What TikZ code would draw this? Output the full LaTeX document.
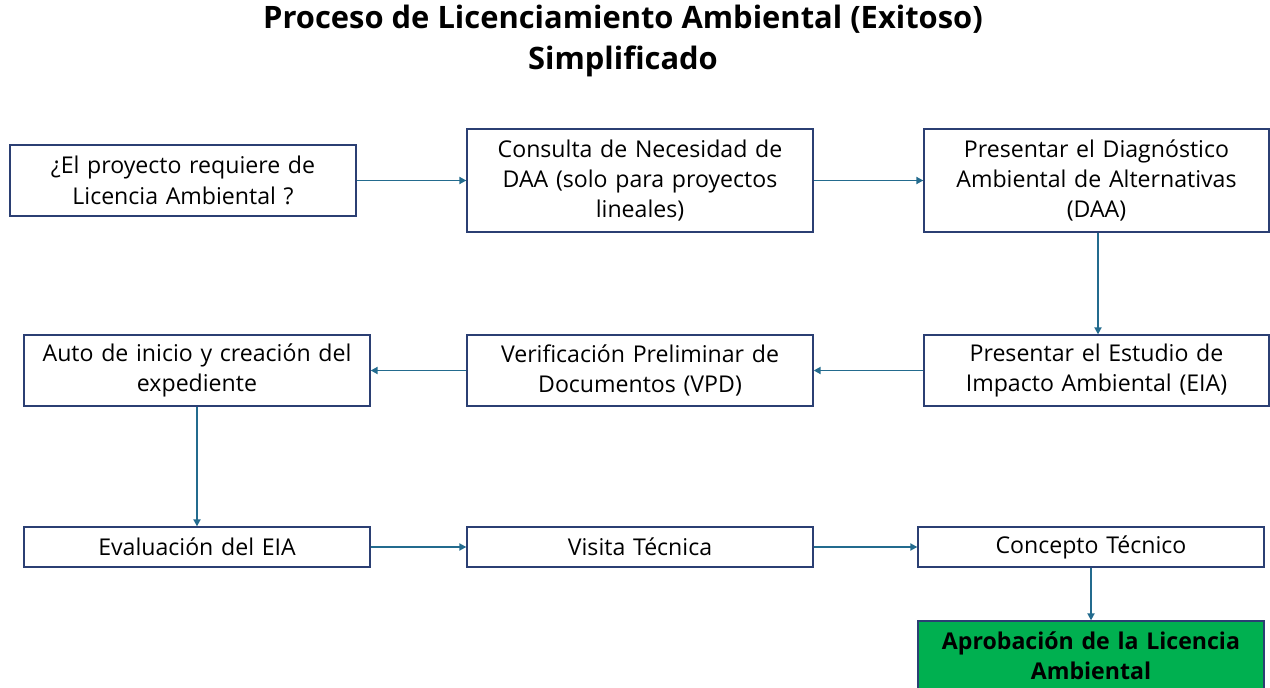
\documentclass[tikz,border=0pt]{standalone}
\usepackage{fontspec}
\setmainfont{Open Sans}
\usetikzlibrary{arrows.meta}
\definecolor{boxline}{HTML}{2B3F73}
\definecolor{arrowc}{HTML}{236B8E}
\definecolor{okgreen}{HTML}{00B050}
\begin{document}
\begin{tikzpicture}[x=1bp,y=-1bp,
  box/.style={draw=boxline, line width=1.3bp, fill=white, inner sep=0pt, align=center,
    font=\fontsize{23.2}{30.5}\selectfont, text width=340bp},
  arr/.style={draw=arrowc, line width=1.8bp, -{Triangle[length=7bp,width=7bp]}}]
\useasboundingbox (0,0) rectangle (1270,688);
\clip (0,0) rectangle (1270,688);
\node[font=\bfseries\fontsize{31}{41}\selectfont, align=center] (title) at (623,41) {Proceso de Licenciamiento Ambiental (Exitoso)\\Simplificado};
\node[box, minimum width=346bp, minimum height=71bp] (a) at (183,180.5) {¿El proyecto requiere de\\Licencia Ambiental ?};
\node[box, minimum width=346bp, minimum height=103bp] (b) at (640,180.5) {Consulta de Necesidad de\\DAA (solo para proyectos\\lineales)};
\node[box, minimum width=345bp, minimum height=103bp] (c) at (1096.5,180.5) {Presentar el Diagnóstico\\Ambiental de Alternativas\\(DAA)};
\node[box, minimum width=346bp, minimum height=71bp] (d) at (197,370.5) {Auto de inicio y creación del\\expediente};
\node[box, minimum width=346bp, minimum height=71bp] (e) at (640,370.5) {Verificación Preliminar de\\Documentos (VPD)};
\node[box, minimum width=345bp, minimum height=71bp] (f) at (1096.5,370.5) {Presentar el Estudio de\\Impacto Ambiental (EIA)};
\node[box, minimum width=346bp, minimum height=40bp] (g) at (197,547) {Evaluación del EIA};
\node[box, minimum width=346bp, minimum height=40bp] (h) at (640,547) {Visita Técnica};
\node[box, minimum width=346bp, minimum height=40bp] (i) at (1091,547) {Concepto Técnico};
\node[box, fill=okgreen, font=\bfseries\fontsize{23.2}{30.5}\selectfont, minimum width=346bp, minimum height=70bp] (j) at (1091,656) {Aprobación de la Licencia\\Ambiental};
\draw[arr] (a) -- (b);
\draw[arr] (b) -- (c);
\draw[arr] (c.south -| 1098,0) -- (f.north -| 1098,0);
\draw[arr] (f) -- (e);
\draw[arr] (e) -- (d);
\draw[arr] (d) -- (g);
\draw[arr] (g) -- (h);
\draw[arr] (h) -- (i);
\draw[arr] (i) -- (j);
\end{tikzpicture}
\end{document}
